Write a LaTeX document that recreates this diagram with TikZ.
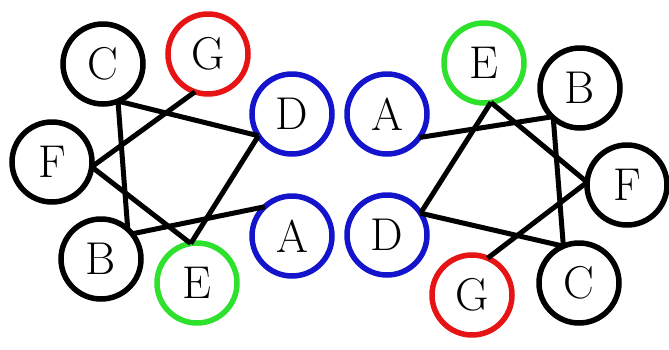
\documentclass[tikz,border=0pt]{standalone}
\usepackage{fontspec}
\begin{document}
\begin{tikzpicture}[x=1pt,y=-1pt,
  vtx/.style={circle,draw=#1,line width=5.5pt,minimum size=80pt,inner sep=0pt,outer sep=0pt,
    font=\fontsize{46}{46}\selectfont},
  vtx/.default=black,
  edge/.style={line width=5pt,black}]
\useasboundingbox (0,0) rectangle (669,349);
\definecolor{vred}{RGB}{230,20,20}
\definecolor{vblue}{RGB}{20,20,205}
\definecolor{vgreen}{RGB}{45,225,45}

% left graph
\node[vtx] (lC) at (103,64) {C};
\node[vtx=vred] (lG) at (208,54) {G};
\node[vtx=vblue] (lD) at (292,114) {D};
\node[vtx] (lF) at (52,162) {F};
\node[vtx] (lB) at (101,259) {B};
\node[vtx=vgreen] (lE) at (197,283) {E};
\node[vtx=vblue] (lA) at (292,236) {A};

% right graph
\node[vtx=vblue] (rA) at (387,114) {A};
\node[vtx=vblue] (rD) at (387,235) {D};
\node[vtx=vgreen] (rE) at (484,63) {E};
\node[vtx] (rB) at (580,88) {B};
\node[vtx] (rF) at (627,185) {F};
\node[vtx] (rC) at (579,283) {C};
\node[vtx=vred] (rG) at (472,295) {G};

% left edges
\draw[edge] (lC.-68) -- (lD.213);
\draw[edge] (lC.-68) -- (lB.48);
\draw[edge] (lG.251) -- (lF.-7);
\draw[edge] (lF.-7) -- (lE.99);
\draw[edge] (lD.213) -- (lE.99);
\draw[edge] (lB.39) -- (lA.133);

% right edges
\draw[edge] (rA.-36) -- (rB.226);
\draw[edge] (rE.-80) -- (rD.33);
\draw[edge] (rE.-80) -- (rF.176);
\draw[edge] (rB.228) -- (rC.113);
\draw[edge] (rD.33) -- (rC.113);
\draw[edge] (rG.67) -- (rF.176);
\end{tikzpicture}
\end{document}
